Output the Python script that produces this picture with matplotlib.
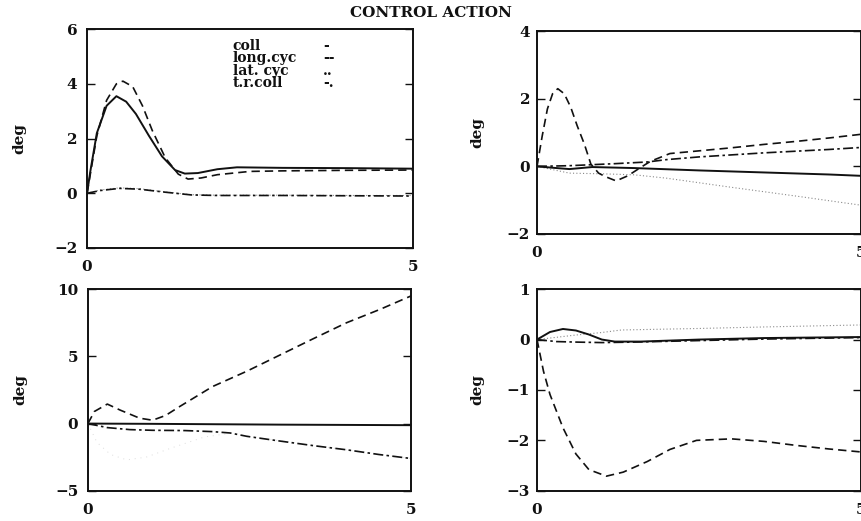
import matplotlib

matplotlib.use("Agg")
import matplotlib.pyplot as plt  # noqa: E402

plt.rcParams.update(
    {
        "font.family": ["DejaVu Serif"],
        "font.weight": "bold",
        "axes.linewidth": 1.4,
        "xtick.direction": "in",
        "ytick.direction": "in",
    }
)

INK = "#111111"
FAINT = "#8a8a8a"

# ---- top-left panel (y -2..6)
tl_coll_t = [0, 0.05, 0.15, 0.3, 0.45, 0.6, 0.75, 0.95, 1.15, 1.35, 1.5, 1.7, 2.0, 2.3, 3, 4, 5]
tl_coll_y = [0, 0.8, 2.2, 3.2, 3.55, 3.35, 2.9, 2.1, 1.35, 0.85, 0.72, 0.74, 0.88, 0.95, 0.93, 0.92, 0.9]
tl_long_t = [0, 0.05, 0.15, 0.3, 0.45, 0.55, 0.7, 0.85, 1.0, 1.2, 1.4, 1.55, 1.75, 2.0, 2.5, 3, 4, 5]
tl_long_y = [0, 0.7, 2.1, 3.4, 4.0, 4.1, 3.9, 3.2, 2.3, 1.3, 0.7, 0.52, 0.56, 0.68, 0.8, 0.82, 0.84, 0.85]
tl_lat_t = [0, 0.2, 0.5, 0.8, 1.2, 1.6, 2, 3, 4, 5]
tl_lat_y = [0, 0.12, 0.2, 0.17, 0.05, -0.05, -0.07, -0.07, -0.08, -0.08]
tl_tr_t = [0, 0.2, 0.5, 0.8, 1.2, 1.6, 2, 3, 4, 5]
tl_tr_y = [0, 0.1, 0.18, 0.15, 0.04, -0.06, -0.08, -0.08, -0.09, -0.1]

# ---- top-right panel (y -2..4)
tr_coll_t = [0, 0.3, 0.5, 0.85, 1.5, 2.5, 3.5, 4.5, 5]
tr_coll_y = [0, -0.05, -0.08, -0.02, -0.05, -0.12, -0.18, -0.24, -0.28]
tr_long_t = [0, 0.08, 0.16, 0.24, 0.32, 0.42, 0.52, 0.62, 0.73, 0.83, 0.95, 1.05, 1.22,
             1.4, 1.6, 1.75, 2.05, 2.5, 3, 3.5, 4, 4.5, 5]
tr_long_y = [0, 0.9, 1.7, 2.15, 2.3, 2.15, 1.75, 1.2, 0.66, 0.07, -0.2, -0.3, -0.43,
             -0.28, -0.03, 0.15, 0.38, 0.46, 0.55, 0.65, 0.74, 0.84, 0.95]
tr_lat_t = [0, 0.3, 0.5, 1.0, 1.5, 2.0, 3.0, 4.0, 5.0]
tr_lat_y = [0, -0.12, -0.2, -0.22, -0.25, -0.35, -0.62, -0.88, -1.15]
tr_tr_t = [0, 0.5, 0.85, 1.2, 1.7, 2.0, 2.5, 3, 3.5, 4, 4.5, 5]
tr_tr_y = [0, 0.02, 0.05, 0.08, 0.13, 0.2, 0.28, 0.34, 0.4, 0.45, 0.5, 0.56]

# ---- bottom-left panel (y -5..10)
bl_coll_t = [0, 1, 2, 3, 4, 5]
bl_coll_y = [0, -0.02, -0.05, -0.08, -0.1, -0.12]
bl_long_t = [0, 0.1, 0.3, 0.5, 0.8, 1.0, 1.2, 1.42, 1.93, 2.46, 2.97, 3.48, 4.0, 4.52, 5.0]
bl_long_y = [0, 0.9, 1.45, 1.0, 0.4, 0.25, 0.6, 1.27, 2.76, 3.9, 5.1, 6.3, 7.5, 8.5, 9.5]
bl_lat_t = [0, 0.14, 0.35, 0.6, 0.9, 1.3, 1.8, 2.2, 2.5, 3, 3.5, 4, 4.5, 5]
bl_lat_y = [0, -1.4, -2.3, -2.7, -2.5, -1.8, -1.0, -0.72, -0.95, -1.3, -1.65, -1.95, -2.3, -2.6]
bl_tr_t = [0, 0.3, 0.65, 1.0, 1.5, 1.93, 2.2, 2.46, 2.97, 3.5, 4, 4.5, 5]
bl_tr_y = [0, -0.3, -0.45, -0.5, -0.52, -0.6, -0.7, -0.95, -1.3, -1.65, -1.95, -2.3, -2.6]

# ---- bottom-right panel (y -3..1)
br_coll_t = [0, 0.2, 0.4, 0.6, 0.8, 1.0, 1.2, 1.6, 2.5, 3.5, 5.0]
br_coll_y = [0, 0.15, 0.21, 0.18, 0.1, 0.0, -0.04, -0.04, 0.0, 0.03, 0.05]
br_long_t = [0, 0.1, 0.2, 0.4, 0.6, 0.8, 1.07, 1.33, 1.7, 2.05, 2.46, 3.0, 3.5, 4.0, 4.5, 5.0]
br_long_y = [0, -0.63, -1.09, -1.75, -2.27, -2.58, -2.71, -2.63, -2.42, -2.18, -2.0, -1.97,
             -2.02, -2.1, -2.17, -2.23]
br_lat_t = [0, 0.2, 0.6, 1.0, 1.3, 2.5, 3.5, 5]
br_lat_y = [0, 0.03, 0.09, 0.14, 0.19, 0.22, 0.25, 0.29]
br_tr_t = [0, 0.3, 0.6, 1.0, 1.5, 2.5, 3.5, 5]
br_tr_y = [0, -0.04, -0.05, -0.06, -0.05, -0.02, 0.01, 0.04]

legend_names = ["coll", "long.cyc", "lat. cyc", "t.r.coll"]
legend_marks = ["-", "--", "..", "-."]

panels = [
    # rect, ylim, yticks, series
    ([0.101, 0.524, 0.378, 0.420], (-2, 6), [-2, 0, 2, 4, 6],
     (tl_coll_t, tl_coll_y, tl_long_t, tl_long_y, tl_lat_t, tl_lat_y, tl_tr_t, tl_tr_y)),
    ([0.623, 0.551, 0.376, 0.389], (-2, 4), [-2, 0, 2, 4],
     (tr_coll_t, tr_coll_y, tr_long_t, tr_long_y, tr_lat_t, tr_lat_y, tr_tr_t, tr_tr_y)),
    ([0.102, 0.058, 0.375, 0.387], (-5, 10), [-5, 0, 5, 10],
     (bl_coll_t, bl_coll_y, bl_long_t, bl_long_y, bl_lat_t, bl_lat_y, bl_tr_t, bl_tr_y)),
    ([0.623, 0.058, 0.376, 0.387], (-3, 1), [-3, -2, -1, 0, 1],
     (br_coll_t, br_coll_y, br_long_t, br_long_y, br_lat_t, br_lat_y, br_tr_t, br_tr_y)),
]

fig = plt.figure(figsize=(8.62, 5.21), dpi=100)
fig.patch.set_facecolor("white")

for i, (rect, ylim, yticks, s) in enumerate(panels):
    ax = fig.add_axes(rect)
    ct, cy, lt, ly, at, ay, rt, ry = s
    if i == 2:
        # barely visible in the scan
        ax.plot(at, ay, color="#dcdcdc", lw=0.7, linestyle=(0, (1, 5)), zorder=2)
    else:
        ax.plot(at, ay, color=FAINT, lw=0.8, linestyle=(0, (1, 2)), zorder=2)
    ax.plot(rt, ry, color=INK, lw=1.2, linestyle=(0, (6, 2, 1.5, 2)), zorder=3)
    ax.plot(lt, ly, color=INK, lw=1.2, linestyle=(0, (5, 3)), zorder=3)
    ax.plot(ct, cy, color=INK, lw=1.4, linestyle="-", zorder=4)
    ax.set_xlim(0, 5)
    ax.set_ylim(*ylim)
    ax.set_xticks([0, 5])
    ax.set_yticks(yticks)
    ax.set_yticklabels([f"{v:d}".replace("-", "\u2212") for v in yticks])
    ax.tick_params(axis="y", left=True, right=True, length=6, width=1.0,
                   labelsize=11, pad=7 if i in (0, 2) else 5, colors=INK)
    ax.tick_params(axis="x", length=0, labelsize=11, pad=9, colors=INK)
    for sp in ax.spines.values():
        sp.set_color(INK)
    ax.set_ylabel("deg", fontsize=11, fontweight="bold", color=INK,
                  labelpad=20 if i in (0, 2) else 16)
    if i == 0:
        # legend drawn as text, like the original plot
        ax.text(0.447, 0.955, "\n".join(legend_names), transform=ax.transAxes,
                fontsize=10, fontweight="bold", va="top", ha="left", color=INK,
                linespacing=0.85)
        ax.text(0.725, 0.955, "\n".join(legend_marks), transform=ax.transAxes,
                fontsize=10, fontweight="bold", va="top", ha="left", color=INK,
                linespacing=0.85)

fig.text(0.5, 0.975, "CONTROL ACTION", ha="center", va="center", fontsize=11,
         fontweight="bold", color=INK)

fig.savefig("out.png", dpi=100, facecolor="white")
